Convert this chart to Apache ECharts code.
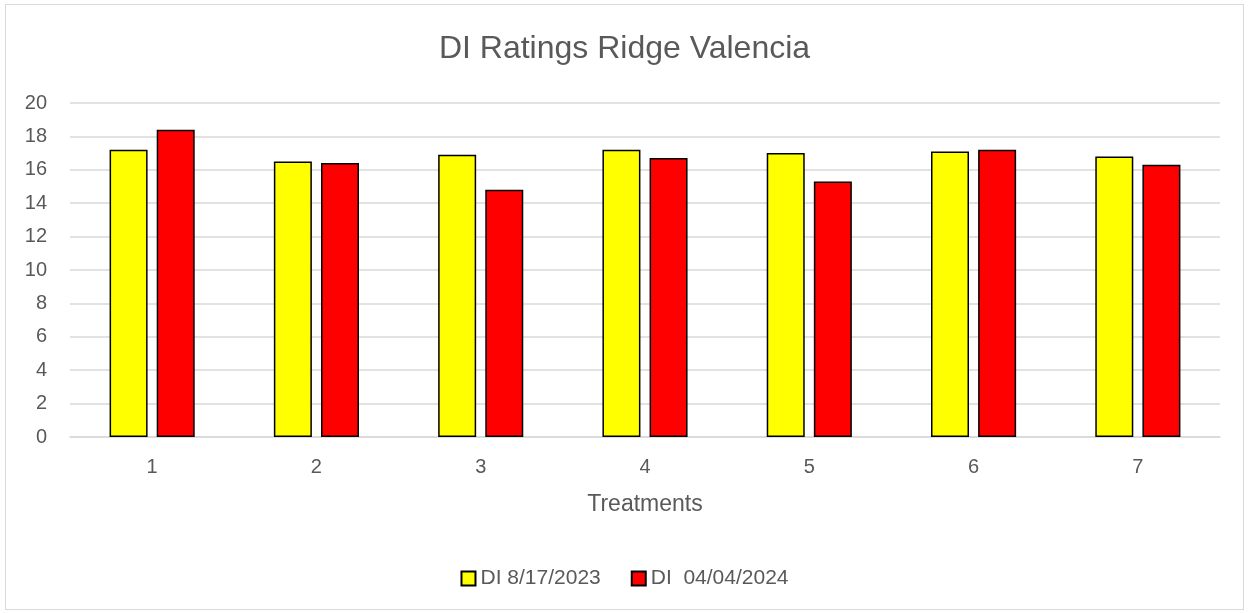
<!DOCTYPE html>
<html><head><meta charset="utf-8">
<script src="https://cdn.jsdelivr.net/npm/echarts@6/dist/echarts.min.js"></script>
<style>html,body{margin:0;padding:0;background:#fff}#c{width:1249px;height:613px}
#frame{position:absolute;left:5px;top:4px;width:1239px;height:606px;border:1px solid #d9d9d9;box-sizing:border-box;pointer-events:none}</style>
</head><body><div id="c"></div><div id="frame"></div>
<script>
const categories = ['1','2','3','4','5','6','7'];
const series1Name = 'DI 8/17/2023';
const series2Name = 'DI  04/04/2024';
const series1 = [17.2, 16.5, 16.9, 17.2, 17.0, 17.1, 16.8];
const series2 = [18.4, 16.4, 14.8, 16.7, 15.3, 17.2, 16.3];

const chart = echarts.init(document.getElementById('c'));
const txt = '#595959';
const ff = 'Liberation Sans, Arial';
chart.setOption({
  animation: false,
  backgroundColor: '#fff',
  title: { text: 'DI Ratings Ridge Valencia', left: 'center', top: 28,
    textStyle: { fontFamily: ff, fontSize: 32, fontWeight: 'normal', color: txt } },
  legend: { top: 563, left: 'center', itemWidth: 14, itemHeight: 14, itemGap: 30,
    icon: 'rect',
    textStyle: { fontFamily: ff, fontSize: 21, color: txt },
    data: [series1Name, series2Name] },
  grid: { left: 70, right: 29, top: 103, bottom: 176, containLabel: false },
  xAxis: { type: 'category', data: categories, name: 'Treatments', nameLocation: 'middle', nameGap: 56,
    nameTextStyle: { fontFamily: ff, fontSize: 23, color: txt },
    axisLine: { lineStyle: { color: '#d9d9d9', width: 1.5 } }, axisTick: { show: false },
    axisLabel: { fontFamily: ff, fontSize: 20, color: txt, margin: 20 } },
  yAxis: { type: 'value', min: 0, max: 20, interval: 2,
    axisLine: { show: false }, axisTick: { show: false },
    splitLine: { lineStyle: { color: '#d9d9d9', width: 1.5 } },
    axisLabel: { fontFamily: ff, fontSize: 20, color: txt, margin: 23 } },
  series: [
    { name: series1Name, type: 'bar', data: series1, barWidth: 38, barGap: '24%',
      itemStyle: { color: '#ffff00', borderColor: '#000', borderWidth: 1.5 } },
    { name: series2Name, type: 'bar', data: series2, barWidth: 38,
      itemStyle: { color: '#ff0000', borderColor: '#000', borderWidth: 1.5 } }
  ]
});
</script></body></html>
